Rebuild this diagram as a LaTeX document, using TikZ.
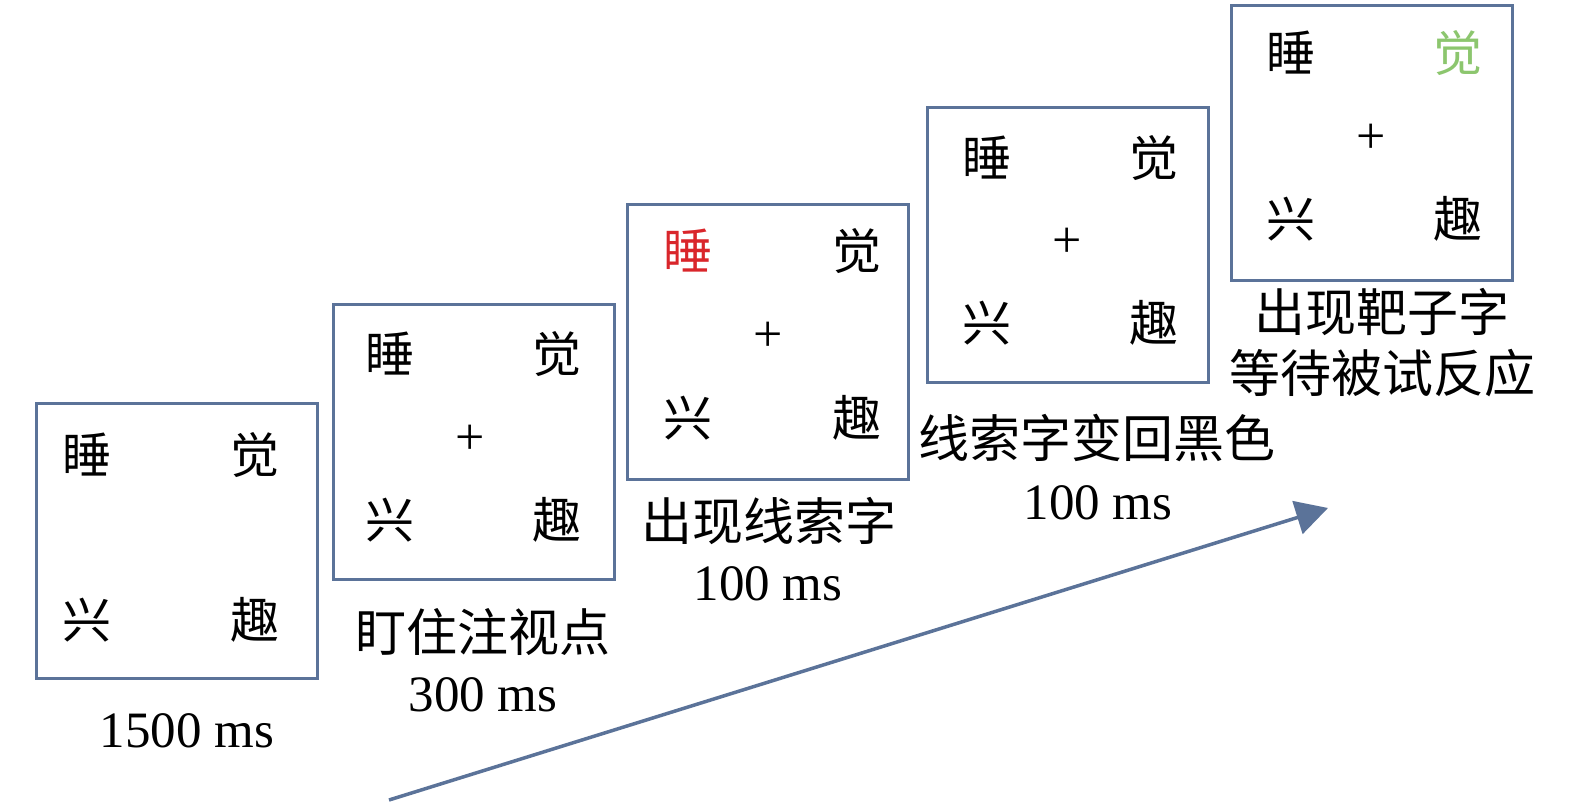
\documentclass[tikz,border=0pt]{standalone}
\usepackage{fontspec}
\setmainfont{Liberation Serif}
\newfontfamily\cjk{Noto Sans CJK SC}
\usetikzlibrary{arrows.meta}
\definecolor{frameblue}{HTML}{5B7399}
\definecolor{cuered}{HTML}{D9262B}
\definecolor{targetgreen}{HTML}{8CC66E}
\tikzset{
  screen/.style={draw=frameblue, line width=3pt, minimum width=281pt, minimum height=275pt, inner sep=0pt, outer sep=0pt, anchor=north west},
  ch/.style={inner sep=0pt, font=\cjk\fontsize{49}{56}\selectfont, text=black},
  fix/.style={inner sep=0pt, font=\fontsize{52}{60}\selectfont},
  lbl/.style={inner sep=0pt, font=\cjk\fontsize{51}{60}\selectfont},
  dur/.style={inner sep=0pt, font=\fontsize{51}{60}\selectfont},
  timearrow/.style={draw=frameblue, line width=3.5pt, -{Triangle[length=32pt,width=34pt]}}
}
\begin{document}
\begin{tikzpicture}[x=1pt,y=-1pt]
\useasboundingbox (0,0) rectangle (1575,807);
% screens
\node[screen] (b1) at (36,403) {};
\node[screen] (b2) at (333,304) {};
\node[screen] (b3) at (627,204) {};
\node[screen] (b4) at (927,107) {};
\node[screen] (b5) at (1231,5) {};
% box 1
\node[ch] (b1a) at (87,455) {睡};
\node[ch] (b1b) at (255,455) {觉};
\node[ch] (b1c) at (87,620) {兴};
\node[ch] (b1d) at (255,620) {趣};
% box 2
\node[ch] (b2a) at (390,354) {睡};
\node[ch] (b2b) at (557,354) {觉};
\node[ch] (b2c) at (390,520) {兴};
\node[ch] (b2d) at (557,520) {趣};
\node[fix] (b2p) at (470,440) {+};
% box 3
\node[ch, text=cuered] (b3a) at (688,251) {睡};
\node[ch] (b3b) at (857,251) {觉};
\node[ch] (b3c) at (688,418) {兴};
\node[ch] (b3d) at (857,418) {趣};
\node[fix] (b3p) at (768,337) {+};
% box 4
\node[ch] (b4a) at (987,158) {睡};
\node[ch] (b4b) at (1154,158) {觉};
\node[ch] (b4c) at (987,323) {兴};
\node[ch] (b4d) at (1154,323) {趣};
\node[fix] (b4p) at (1067,243) {+};
% box 5
\node[ch] (b5a) at (1291,53) {睡};
\node[ch, text=targetgreen] (b5b) at (1458,53) {觉};
\node[ch] (b5c) at (1291,219) {兴};
\node[ch] (b5d) at (1458,219) {趣};
\node[fix] (b5p) at (1371,139) {+};
% labels
\node[dur] (t1) at (187,731) {1500 ms};
\node[lbl] (l2) at (483,632) {盯住注视点};
\node[dur] (t2) at (483,695) {300 ms};
\node[lbl] (l3) at (769,521) {出现线索字};
\node[dur] (t3) at (768,584) {100 ms};
\node[lbl] (l4) at (1097,438) {线索字变回黑色};
\node[dur] (t4) at (1098,503) {100 ms};
\node[lbl] (l5a) at (1382,312) {出现靶子字};
\node[lbl] (l5b) at (1382,373) {等待被试反应};
% time arrow
\coordinate (arrtail) at (389,800);
\coordinate (arrhead) at (1328,508);
\draw[timearrow] (arrtail) -- (arrhead);
\end{tikzpicture}
\end{document}
